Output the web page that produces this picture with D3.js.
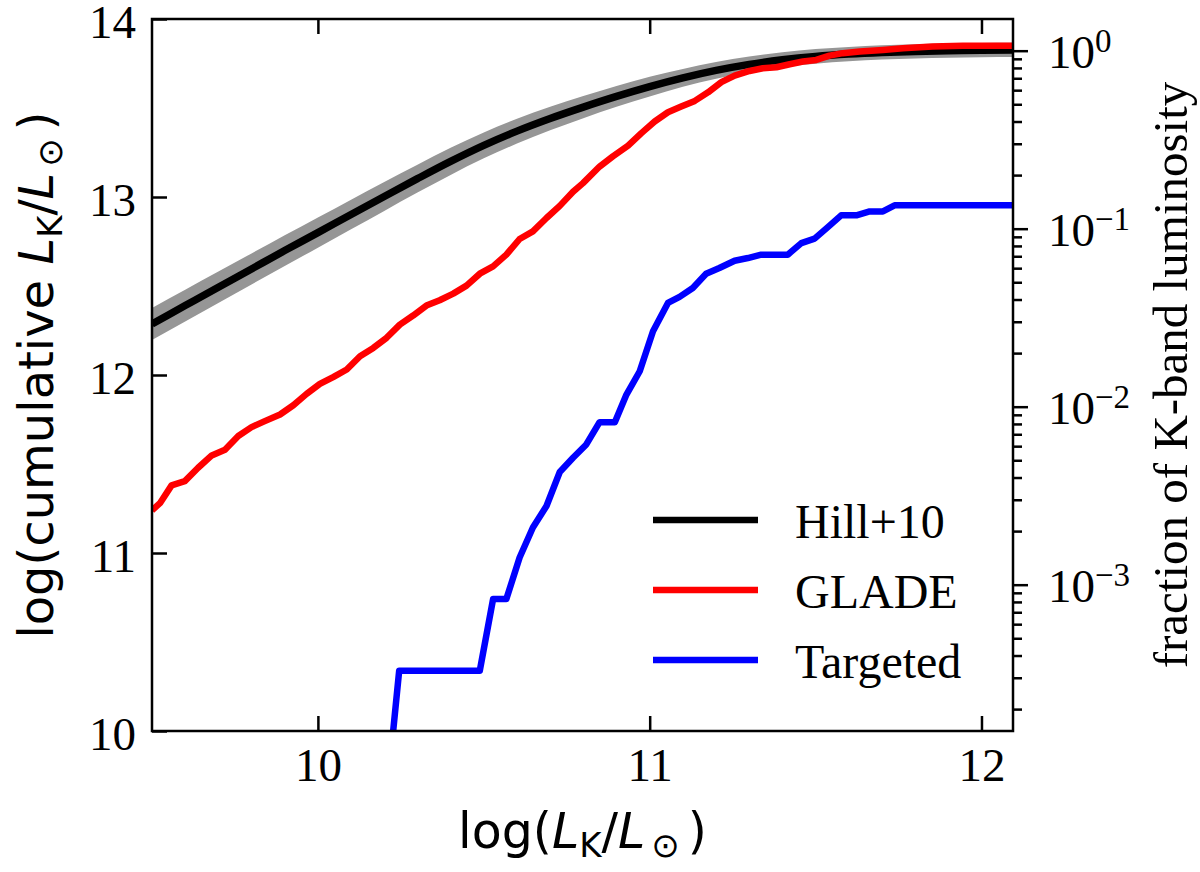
<!DOCTYPE html>
<html>
<head>
<meta charset="utf-8">
<script src="https://cdn.jsdelivr.net/npm/d3@7"></script>
<style>
  html, body { margin: 0; padding: 0; background: #fff; }
  svg { display: block; }
</style>
</head>
<body>
<svg id="chart" width="1200" height="872"></svg>
<script>
// Hill+10 model curve and its uncertainty band
const hillX  = [9.5, 9.6, 9.7, 9.8, 9.9, 10.0, 10.1, 10.2, 10.3, 10.4, 10.5, 10.6, 10.7, 10.8, 10.9, 11.0, 11.1, 11.2, 11.3, 11.4, 11.5, 11.6, 11.7, 11.8, 11.9, 12.0, 12.1];
const hillY  = [12.287, 12.390, 12.493, 12.596, 12.699, 12.800, 12.902, 13.003, 13.103, 13.200, 13.290, 13.370, 13.441, 13.505, 13.565, 13.620, 13.669, 13.711, 13.745, 13.771, 13.790, 13.803, 13.812, 13.818, 13.822, 13.825, 13.826];
const hillHi = [12.377, 12.479, 12.581, 12.683, 12.785, 12.885, 12.985, 13.084, 13.181, 13.276, 13.363, 13.440, 13.507, 13.567, 13.623, 13.675, 13.719, 13.758, 13.789, 13.813, 13.831, 13.843, 13.852, 13.858, 13.862, 13.865, 13.866];
const hillLo = [12.197, 12.301, 12.405, 12.509, 12.613, 12.715, 12.819, 12.922, 13.025, 13.124, 13.217, 13.300, 13.375, 13.443, 13.507, 13.565, 13.619, 13.664, 13.701, 13.729, 13.749, 13.763, 13.772, 13.778, 13.782, 13.785, 13.786];

// GLADE cumulative luminosity
const gladeX = [9.50, 9.524, 9.559, 9.599, 9.639, 9.680, 9.720, 9.760, 9.800, 9.840, 9.886, 9.926, 9.966, 10.006, 10.046, 10.087, 10.127, 10.167, 10.207, 10.247, 10.287, 10.327, 10.367, 10.408, 10.448, 10.488, 10.528, 10.568, 10.608, 10.648, 10.689, 10.729, 10.769, 10.799, 10.849, 10.889, 10.935, 10.975, 11.015, 11.055, 11.095, 11.136, 11.176, 11.216, 11.256, 11.301, 11.341, 11.382, 11.422, 11.462, 11.502, 11.542, 11.582, 11.633, 11.703, 11.763, 11.853, 11.944, 12.10];
const gladeY = [11.24, 11.28, 11.38, 11.404, 11.479, 11.548, 11.58, 11.657, 11.707, 11.741, 11.778, 11.83, 11.894, 11.95, 11.988, 12.031, 12.105, 12.152, 12.209, 12.283, 12.334, 12.39, 12.42, 12.457, 12.502, 12.569, 12.61, 12.676, 12.764, 12.807, 12.882, 12.95, 13.03, 13.078, 13.171, 13.228, 13.289, 13.359, 13.424, 13.476, 13.508, 13.54, 13.588, 13.645, 13.682, 13.708, 13.723, 13.729, 13.746, 13.761, 13.77, 13.794, 13.808, 13.817, 13.826, 13.836, 13.845, 13.85, 13.85];

// Targeted galaxies cumulative luminosity
const targX = [10.205, 10.245, 10.488, 10.528, 10.568, 10.608, 10.648, 10.689, 10.729, 10.769, 10.809, 10.849, 10.895, 10.93, 10.970, 11.01, 11.055, 11.09, 11.13, 11.17, 11.21, 11.256, 11.296, 11.336, 11.416, 11.457, 11.497, 11.537, 11.577, 11.623, 11.663, 11.703, 11.738, 12.10];
const targY = [9.59, 10.339, 10.339, 10.741, 10.741, 10.975, 11.143, 11.264, 11.455, 11.535, 11.61, 11.735, 11.735, 11.89, 12.021, 12.246, 12.405, 12.439, 12.489, 12.569, 12.601, 12.642, 12.657, 12.676, 12.676, 12.741, 12.766, 12.831, 12.897, 12.897, 12.919, 12.919, 12.953, 12.953];

const xTicks = [10, 11, 12];
const yTicks = [10, 11, 12, 13, 14];
const fracExps = [-3, -2, -1, 0];
const logTotal = 13.822; // log of total L_K, links right axis to left axis

const seriesNames = ["Hill+10", "GLADE", "Targeted"];
const seriesColors = ["#000000", "#ff0000", "#0000ff"];

(function () {
  const svg = d3.select("#chart");
  const margin = { top: 19, right: 187, bottom: 141, left: 152 };
  const W = 1200, H = 872;
  const x0 = margin.left, x1 = W - margin.right, y0 = margin.top, y1 = H - margin.bottom;

  const serif = "'Liberation Serif', 'Times New Roman', serif";
  const sans = "'DejaVu Sans', sans-serif";

  const x = d3.scaleLinear().domain([9.5, 12.095]).range([x0, x1]);
  const y = d3.scaleLinear().domain([10, 14]).range([y1, y0]);
  const frac = d3.scaleLog()
    .domain([Math.pow(10, 10 - logTotal), Math.pow(10, 14 - logTotal)])
    .range([y1, y0]);

  svg.append("defs").append("clipPath").attr("id", "plotclip")
    .append("rect").attr("x", x0).attr("y", y0).attr("width", x1 - x0).attr("height", y1 - y0);

  const plot = svg.append("g").attr("clip-path", "url(#plotclip)");

  // uncertainty band
  const band = d3.area()
    .x(i => x(hillX[i])).y0(i => y(hillLo[i])).y1(i => y(hillHi[i]))
    .curve(d3.curveMonotoneX);
  plot.append("path").attr("d", band(d3.range(hillX.length)))
    .attr("fill", "#969696").attr("stroke", "none");

  const lineSmooth = (xs, ys) => d3.line().x(i => x(xs[i])).y(i => y(ys[i])).curve(d3.curveMonotoneX)(d3.range(xs.length));
  const lineRaw = (xs, ys) => d3.line().x(i => x(xs[i])).y(i => y(ys[i]))(d3.range(xs.length));

  const paths = [lineSmooth(hillX, hillY), lineRaw(gladeX, gladeY), lineRaw(targX, targY)];
  paths.forEach((d, k) => {
    plot.append("path").attr("d", d)
      .attr("fill", "none")
      .attr("stroke", seriesColors[k])
      .attr("stroke-width", k === 0 ? 7.5 : 6.5)
      .attr("stroke-linejoin", "round");
  });

  // axes
  const styleAxis = g => {
    g.select(".domain").remove();
    g.selectAll(".tick line").attr("stroke", "#000").attr("stroke-width", 2.5);
    g.selectAll(".tick text").attr("fill", "#000").attr("font-family", serif).attr("font-size", 47);
  };

  svg.append("g").attr("transform", `translate(${x0},0)`)
    .call(d3.axisLeft(y).tickValues(yTicks).tickSize(-15).tickPadding(16).tickFormat(d3.format("d")))
    .call(styleAxis)
    .call(g => g.selectAll(".tick text").attr("dy", "0.39em"));

  svg.append("g").attr("transform", `translate(0,${y1})`)
    .call(d3.axisBottom(x).tickValues(xTicks).tickSize(-15).tickPadding(17).tickFormat(d3.format("d")))
    .call(styleAxis);

  svg.append("g").attr("transform", `translate(0,${y0})`)
    .call(d3.axisTop(x).tickValues(xTicks).tickSize(-15).tickFormat(""))
    .call(styleAxis);

  // right log axis: minor then major
  const minor = [];
  fracExps.concat([-4]).forEach(e => {
    for (let m = 2; m <= 9; m++) {
      const v = m * Math.pow(10, e);
      if (v >= frac.domain()[0] && v <= frac.domain()[1]) minor.push(v);
    }
  });
  svg.append("g").attr("transform", `translate(${x1},0)`)
    .call(d3.axisRight(frac).tickValues(minor).tickSize(9).tickFormat(""))
    .call(styleAxis);

  const major = svg.append("g").attr("transform", `translate(${x1},0)`)
    .call(d3.axisRight(frac).tickValues(fracExps.map(e => Math.pow(10, e))).tickSize(15).tickPadding(20).tickFormat(""))
    .call(styleAxis);
  major.selectAll(".tick text").each(function (d) {
    const t = d3.select(this).attr("dy", "0.36em");
    const e = Math.round(Math.log10(d));
    t.append("tspan").text("10");
    t.append("tspan").attr("font-size", 33).attr("dy", -16).text(e < 0 ? "\u2212" + (-e) : String(e));
  });

  // frame
  svg.append("rect").attr("x", x0).attr("y", y0).attr("width", x1 - x0).attr("height", y1 - y0)
    .attr("fill", "none").attr("stroke", "#000").attr("stroke-width", 2.5);

  // axis labels
  const mathLabel = (sel, prefix) => {
    sel.append("tspan").text(prefix);
    sel.append("tspan").attr("font-style", "italic").text("L");
    sel.append("tspan").attr("font-size", 34).attr("dy", 9).text("K");
    sel.append("tspan").attr("dy", -9).text("/");
    sel.append("tspan").attr("font-style", "italic").text("L");
    sel.append("tspan").attr("font-size", 34).attr("dy", 9).attr("dx", 6).text("\u2299");
    sel.append("tspan").attr("dy", -9).attr("dx", 8).text(")");
  };

  svg.append("text")
    .attr("x", (x0 + x1) / 2).attr("y", 848)
    .attr("text-anchor", "middle").attr("font-family", sans).attr("font-size", 49)
    .call(mathLabel, "log(");

  svg.append("text")
    .attr("transform", `translate(53,${(y0 + y1) / 2}) rotate(-90)`)
    .attr("text-anchor", "middle").attr("font-family", sans).attr("font-size", 48)
    .call(mathLabel, "log(cumulative ");

  svg.append("text")
    .attr("transform", `translate(1187,${(y0 + y1) / 2}) rotate(-90)`)
    .attr("text-anchor", "middle").attr("font-family", serif).attr("font-size", 49)
    .text("fraction of K-band luminosity");

  // legend
  const legend = svg.append("g").attr("transform", "translate(653,520)");
  seriesNames.forEach((name, k) => {
    const row = legend.append("g").attr("transform", `translate(0,${k * 70})`);
    row.append("line").attr("x1", 0).attr("x2", 105).attr("y1", 0).attr("y2", 0)
      .attr("stroke", seriesColors[k]).attr("stroke-width", 6.5);
    row.append("text").attr("x", 142).attr("y", 18)
      .attr("font-family", serif).attr("font-size", 48).attr("fill", "#000").text(name);
  });
})();
</script>
</body>
</html>
